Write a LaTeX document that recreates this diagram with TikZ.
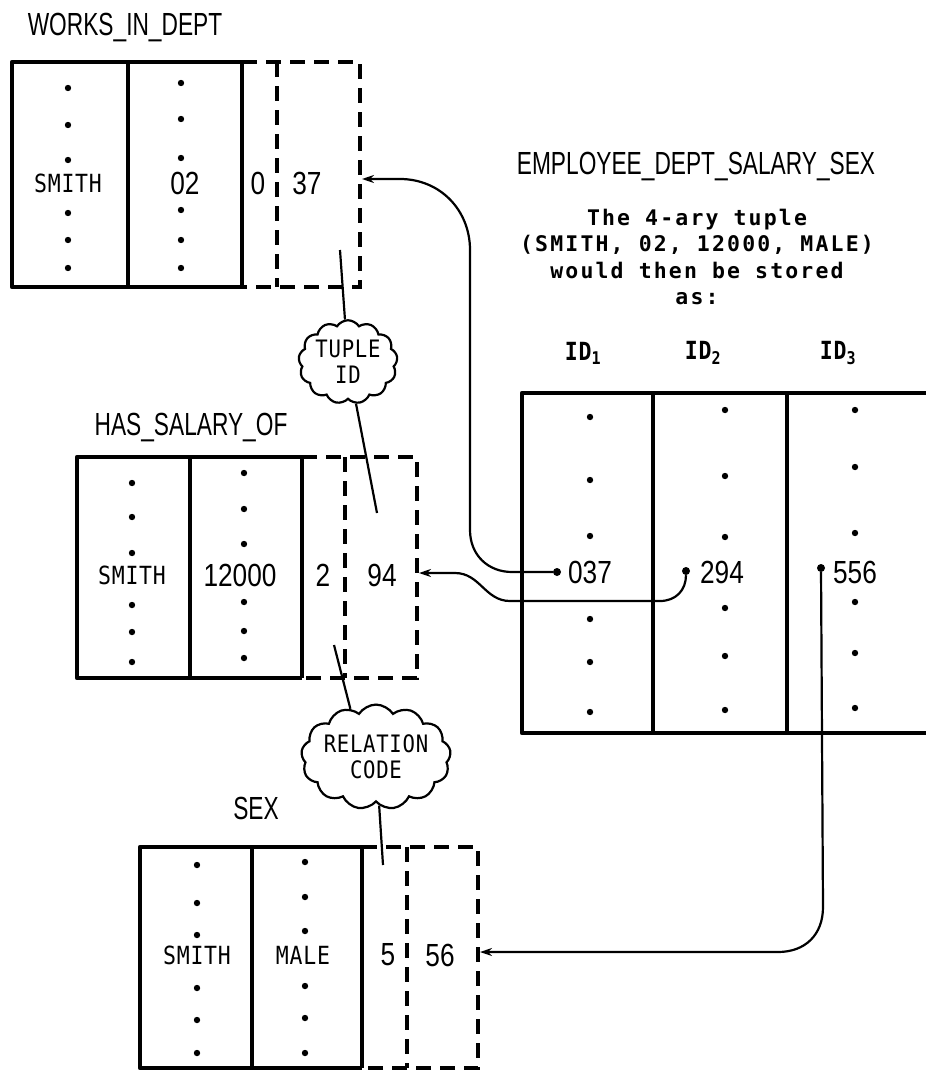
\documentclass[tikz,border=0pt]{standalone}
\usepackage{fontspec}
\usetikzlibrary{positioning, shapes.symbols, arrows.meta}
\newfontfamily\titlefont[FakeStretch=0.71]{Liberation Sans}
\newfontfamily\numfont[FakeStretch=0.82]{Liberation Sans}
\newfontfamily\typefont[FakeStretch=0.86, LetterSpace=3]{DejaVu Sans Mono}
\newfontfamily\notefont[LetterSpace=10]{DejaVu Sans Mono}

\begin{document}
\begin{tikzpicture}[x=1pt, y=-1pt,
  title/.style={font={\titlefont\fontsize{32}{36}\selectfont}, inner sep=0pt},
  value/.style={font={\numfont\fontsize{32}{36}\selectfont}, inner sep=0pt},
  entry/.style={font={\typefont\fontsize{25}{28}\selectfont}, inner sep=0pt},
  note/.style={font={\notefont\bfseries\fontsize{21.5}{26.5}\selectfont}, align=center, inner sep=0pt},
  idhead/.style={font={\typefont\bfseries\fontsize{25}{28}\selectfont}, inner sep=0pt},
  bubble/.style={cloud, draw, line width=2.2pt, cloud puffs=13, cloud puff arc=115,
                 aspect=1.6, inner sep=0pt, align=center,
                 font={\typefont\fontsize{24}{26}\selectfont}},
  frame/.style={line width=4.4pt, line join=round},
  divider/.style={line width=3.6pt},
  idframe/.style={line width=3.6pt, dash pattern=on 15pt off 9pt},
  link/.style={line width=2.2pt},
  pointer/.style={line width=2.2pt, -{Stealth[length=12pt,width=8pt]}},
  srcdot/.style={circle, fill, inner sep=0pt, minimum size=8pt}
]
\clip (0,0) rectangle (926,1071);

% WORKS_IN_DEPT
\node[title] (wtitle) at (125,28) {WORKS\_IN\_DEPT};
\draw[frame] (242,62) -- (12,62) -- (12,287) -- (242,287);
\draw[divider] (128,62) -- (128,287);
\draw[divider] (242,62) -- (242,287);
\draw[idframe] (242,62) -- (360,62) -- (360,287) -- (242,287);
\draw[idframe] (277,62) -- (277,287);
\foreach \y in {88,125,160,213,240,268} \fill (68,\y) circle (3.2pt);
\foreach \y in {83,119,158,210,240,268} \fill (181,\y) circle (3.2pt);
\node[entry] (wname) at (68,183) {SMITH};
\node[value] (wdept) at (185,183) {02};
\node[value] (wcode) at (258,183) {0};
\node[value] (wtuple) at (307,183) {37};
\coordinate (w37) at (362,179);
\coordinate (wtail) at (340,250);

% HAS_SALARY_OF
\node[title] (htitle) at (191,428) {HAS\_SALARY\_OF};
\draw[frame] (302,457) -- (77,457) -- (77,678) -- (302,678);
\draw[divider] (190,457) -- (190,678);
\draw[divider] (302,457) -- (302,678);
\draw[idframe] (302,457) -- (417,457) -- (417,678) -- (302,678);
\draw[idframe] (345,457) -- (345,678);
\foreach \y in {483,517,553,605,632,662} \fill (132,\y) circle (3.2pt);
\foreach \y in {473,509,544,602,631,658} \fill (244,\y) circle (3.2pt);
\node[entry] (hname) at (132,575) {SMITH};
\node[value] (hsal) at (240,575) {12000};
\node[value] (hcode) at (323,575) {2};
\node[value] (htuple) at (382,575) {94};
\coordinate (h94) at (419,573);
\coordinate (htail) at (377,513);
\coordinate (htail2) at (334,645);

% SEX
\node[title] (stitle) at (256,808) {SEX};
\draw[frame] (362,847) -- (140,847) -- (140,1068) -- (362,1068);
\draw[divider] (252,847) -- (252,1068);
\draw[divider] (362,847) -- (362,1068);
\draw[idframe] (362,847) -- (478,847) -- (478,1068) -- (362,1068);
\draw[idframe] (407,847) -- (407,1068);
\foreach \y in {865,903,935,988,1020,1053} \fill (197,\y) circle (3.2pt);
\foreach \y in {862,897,931,986,1018,1053} \fill (305,\y) circle (3.2pt);
\node[entry] (sname) at (197,955) {SMITH};
\node[entry] (ssex) at (303,955) {MALE};
\node[value] (scode) at (388,955) {5};
\node[value] (stuple) at (440,955) {56};
\coordinate (s56) at (480,952);
\coordinate (stail) at (383,865);

% EMPLOYEE_DEPT_SALARY_SEX
\node[title] (etitle) at (696,167) {EMPLOYEE\_DEPT\_SALARY\_SEX};
\node[note] (enote) at (697,257) {The 4-ary tuple\\(SMITH, 02, 12000, MALE)\\would then be stored\\as:};
\node[idhead] (id1) at (583,353) {ID\textsubscript{1}};
\node[idhead] (id2) at (703,353) {ID\textsubscript{2}};
\node[idhead] (id3) at (838,353) {ID\textsubscript{3}};
\draw[frame] (940,393) -- (522,393) -- (522,733) -- (940,733);
\draw[divider] (653,393) -- (653,733);
\draw[divider] (787,393) -- (787,733);
\foreach \y in {417,480,536,619,662,712} \fill (590,\y) circle (3.2pt);
\foreach \y in {410,476,537,608,656,710} \fill (725,\y) circle (3.2pt);
\foreach \y in {410,467,533,602,653,708} \fill (855,\y) circle (3.2pt);
\node[value] (e037) at (590,572) {037};
\node[value] (e294) at (722,572) {294};
\node[value] (e556) at (855,572) {556};
\node[srcdot] (d037) at (557,572) {};
\node[srcdot] (d294) at (686,571) {};
\node[srcdot] (d556) at (821,568) {};

% clouds
\node[bubble, aspect=1.25] (tupleid) at (348,362) {TUPLE\\ID};
\node[bubble, inner sep=-2pt] (relcode) at (376,757) {RELATION\\CODE};
\draw[link] (tupleid) -- (wtail);
\draw[link] (tupleid) -- (htail);
\draw[link] (relcode.118) -- (htail2);
\draw[link] (relcode) -- (stail);

% pointers
\draw[pointer] (d037) -- (512,572) .. controls (488,572) and (470,555) .. (470,530)
  -- (470,250) .. controls (470,210) and (440,179) .. (400,179) -- (w37);
\draw[pointer] (d294) .. controls (686,590) and (676,601) .. (660,601) -- (510,601)
  .. controls (485,601) and (480,573) .. (455,573) -- (h94);
\draw[pointer] (d556) -- (823,907) .. controls (823,935) and (805,952) .. (778,952) -- (s56);
\end{tikzpicture}
\end{document}
